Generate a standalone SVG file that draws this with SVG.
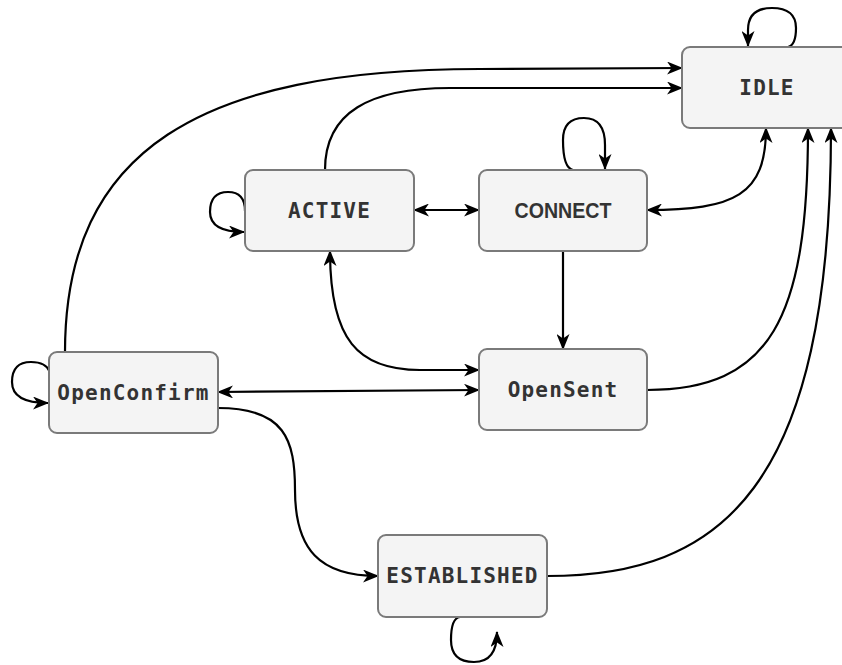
<svg xmlns="http://www.w3.org/2000/svg" width="842" height="665" viewBox="0 0 842 665">
  <defs>
    <style>
      .state rect { fill: #f4f4f4; stroke: #7a7a7a; stroke-width: 2; }
      .state text { font-family: "DejaVu Sans Mono", "Liberation Mono", monospace; font-weight: bold; font-size: 21px; letter-spacing: 1.2px; fill: #333333; text-anchor: middle; dominant-baseline: central; }
      .state text.sans { font-family: "Liberation Sans", Arial, sans-serif; font-size: 21.5px; letter-spacing: 0; }
      .edge { fill: none; stroke: #000000; stroke-width: 2.2; }
    </style>
    <marker id="arrow" viewBox="0 0 16 13" refX="15" refY="6.5" markerWidth="16" markerHeight="13" markerUnits="userSpaceOnUse" orient="auto-start-reverse">
      <path d="M0,0 L16,6.5 L0,13 L4.5,6.5 z" fill="#000000"/>
    </marker>
  </defs>

  <!-- transitions -->
  <g id="connectors">
    <!-- self loops -->
    <path class="edge" d="M 788 47 Q 796 45 796 28 Q 796 8 772 8 Q 748 8 748 30 L 748 46" marker-end="url(#arrow)"/>
    <path class="edge" d="M 245 211 Q 245 192 228 192 Q 210 192 210 212 Q 210 232 244 232" marker-end="url(#arrow)"/>
    <path class="edge" d="M 573 170 Q 563 168 563 140 Q 563 118 584 118 Q 605 118 605 145 L 605 169" marker-end="url(#arrow)"/>
    <path class="edge" d="M 50 372 Q 46 362 31 362 Q 12 362 12 382 Q 12 403 48 403" marker-end="url(#arrow)"/>
    <path class="edge" d="M 460 617 Q 451 618 451 640 Q 451 662 474 662 Q 497 662 497 632" marker-end="url(#arrow)"/>

    <!-- ACTIVE <-> CONNECT -->
    <path class="edge" d="M 414 210 L 479 210" marker-start="url(#arrow)" marker-end="url(#arrow)"/>
    <!-- CONNECT <-> IDLE -->
    <path class="edge" d="M 647 210 C 735 210 766 195 766 128" marker-start="url(#arrow)" marker-end="url(#arrow)"/>
    <!-- ACTIVE -> IDLE -->
    <path class="edge" d="M 325 170 C 325 112 370 88 450 88 L 682 88" marker-end="url(#arrow)"/>
    <!-- OpenConfirm -> IDLE -->
    <path class="edge" d="M 65 352 C 65 150 200 69 480 69 L 682 68" marker-end="url(#arrow)"/>
    <!-- ACTIVE <-> OpenSent -->
    <path class="edge" d="M 330 251 C 330 340 358 370 420 370 L 479 370" marker-start="url(#arrow)" marker-end="url(#arrow)"/>
    <!-- OpenConfirm <-> OpenSent -->
    <path class="edge" d="M 218 392 L 479 390" marker-start="url(#arrow)" marker-end="url(#arrow)"/>
    <!-- CONNECT -> OpenSent -->
    <path class="edge" d="M 563 251 L 563 349" marker-end="url(#arrow)"/>
    <!-- OpenSent -> IDLE -->
    <path class="edge" d="M 647 390 C 770 390 808 320 808 128" marker-end="url(#arrow)"/>
    <!-- OpenConfirm -> ESTABLISHED -->
    <path class="edge" d="M 218 408 C 285 408 295 440 295 490 C 295 550 320 576 378 576" marker-end="url(#arrow)"/>
    <!-- ESTABLISHED -> IDLE -->
    <path class="edge" d="M 547 576 C 720 576 831 490 831 128" marker-end="url(#arrow)"/>
  </g>

  <g id="idle" class="state">
    <rect x="682" y="47" width="170" height="81" rx="8"/>
    <text x="767" y="88">IDLE</text>
  </g>
  <g id="active" class="state">
    <rect x="245" y="170" width="169" height="81" rx="8"/>
    <text x="329.5" y="210.5">ACTIVE</text>
  </g>
  <g id="connect" class="state">
    <rect x="479" y="170" width="168" height="81" rx="8"/>
    <text class="sans" x="563" y="210.5" textLength="97" lengthAdjust="spacingAndGlyphs">CONNECT</text>
  </g>
  <g id="opensent" class="state">
    <rect x="479" y="349" width="168" height="81" rx="8"/>
    <text x="563" y="389.5">OpenSent</text>
  </g>
  <g id="openconfirm" class="state">
    <rect x="49" y="352" width="169" height="81" rx="8"/>
    <text x="133.5" y="392.5">OpenConfirm</text>
  </g>
  <g id="established" class="state">
    <rect x="378" y="535" width="169" height="82" rx="8"/>
    <text x="462.5" y="576">ESTABLISHED</text>
  </g>
</svg>
